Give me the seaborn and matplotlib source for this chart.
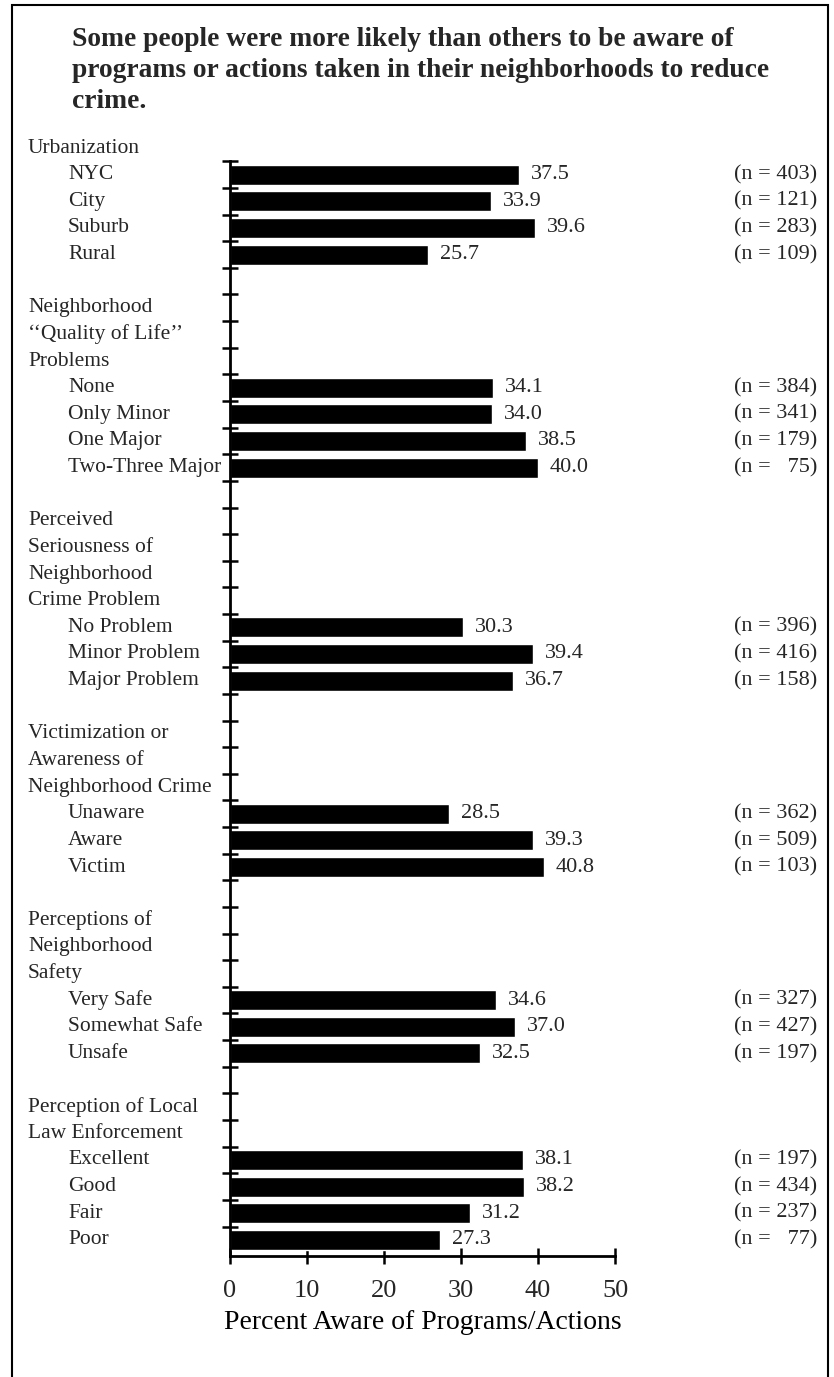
import seaborn as sns
import matplotlib.pyplot as plt
import matplotlib.transforms as mtransforms
from matplotlib.patches import Rectangle
import numpy as np
import pandas as pd

# title text
title_lines = [
    "Some people were more likely than others to be aware of",
    "programs or actions taken in their neighborhoods to reduce",
    "crime.",
]

# groups: header lines, item labels, percent aware, sample size
urban_head = ["Urbanization"]
urban_labels = ["NYC", "City", "Suburb", "Rural"]
urban_pct = [37.5, 33.9, 39.6, 25.7]
urban_n = [403, 121, 283, 109]

qol_head = ["Neighborhood", "\u2018\u2018Quality of Life\u2019\u2019", "Problems"]
qol_labels = ["None", "Only Minor", "One Major", "Two-Three Major"]
qol_pct = [34.1, 34.0, 38.5, 40.0]
qol_n = [384, 341, 179, 75]

crime_head = ["Perceived", "Seriousness of", "Neighborhood", "Crime Problem"]
crime_labels = ["No Problem", "Minor Problem", "Major Problem"]
crime_pct = [30.3, 39.4, 36.7]
crime_n = [396, 416, 158]

victim_head = ["Victimization or", "Awareness of", "Neighborhood Crime"]
victim_labels = ["Unaware", "Aware", "Victim"]
victim_pct = [28.5, 39.3, 40.8]
victim_n = [362, 509, 103]

safety_head = ["Perceptions of", "Neighborhood", "Safety"]
safety_labels = ["Very Safe", "Somewhat Safe", "Unsafe"]
safety_pct = [34.6, 37.0, 32.5]
safety_n = [327, 427, 197]

law_head = ["Perception of Local", "Law Enforcement"]
law_labels = ["Excellent", "Good", "Fair", "Poor"]
law_pct = [38.1, 38.2, 31.2, 27.3]
law_n = [197, 434, 237, 77]

groups = [
    (urban_head, urban_labels, urban_pct, urban_n),
    (qol_head, qol_labels, qol_pct, qol_n),
    (crime_head, crime_labels, crime_pct, crime_n),
    (victim_head, victim_labels, victim_pct, victim_n),
    (safety_head, safety_labels, safety_pct, safety_n),
    (law_head, law_labels, law_pct, law_n),
]

# one row per text line, header lines and blank spacer rows have no bar
rows = []
for gi, (head, labels, pct, ns) in enumerate(groups):
    for h in head:
        rows.append(("head", h, np.nan, None))
    for lab, p, k in zip(labels, pct, ns):
        rows.append(("item", lab, p, k))
    if gi < len(groups) - 1:
        rows.append(("blank", "", np.nan, None))
df = pd.DataFrame(rows, columns=["kind", "label", "pct", "n"])
df["row"] = [f"r{i}" for i in range(len(df))]
nrows = len(df)

sns.set_theme(style="white")
plt.rcParams["font.family"] = ["Liberation Serif", "DejaVu Serif"]

W, H = 834, 1377
fig = plt.figure(figsize=(W / 100, H / 100), dpi=100)

row_px = 26.63
y_top = 0.5
y_bot = nrows - 0.4
top_px = 148 + y_top * row_px
bot_px = 148 + y_bot * row_px
ax = fig.add_axes([230 / W, 1 - bot_px / H, (615 - 230) / W, (bot_px - top_px) / H])

sns.barplot(data=df, x="pct", y="row", order=list(df["row"]), color="black",
            width=0.75, orient="h", errorbar=None, ax=ax, saturation=1)

ax.set_ylim(y_bot, y_top)
ax.set_xlim(0, 50)
ax.set_xticks(range(0, 51, 10))
ax.set_yticks(np.arange(0.5, nrows - 0.5, 1))
ax.set_yticklabels([])
ax.tick_params(axis="y", direction="inout", length=11, width=1.8, color="black", left=True)
ax.tick_params(axis="x", direction="inout", length=11, width=1.8, color="black",
               bottom=True, labelsize=19, pad=12)
for s in ["top", "right"]:
    ax.spines[s].set_visible(False)
for s in ["left", "bottom"]:
    ax.spines[s].set_linewidth(2)
    ax.spines[s].set_color("black")
ax.set_ylabel("")
ax.set_xlabel("Percent Aware of Programs/Actions", fontsize=20, labelpad=6, color="black")
ax.patch.set_alpha(0)

# row labels, value labels, sample sizes
tr = mtransforms.blended_transform_factory(fig.transFigure, ax.transData)
for i, r in df.iterrows():
    if r["kind"] == "head":
        ax.text(28 / W, i, r["label"], transform=tr, va="center", ha="left",
                fontsize=15.5, clip_on=False)
    elif r["kind"] == "item":
        ax.text(68 / W, i, r["label"], transform=tr, va="center", ha="left",
                fontsize=15.5, clip_on=False)
        ax.text(r["pct"] + 1.55, i, f"{r['pct']:.1f}", va="center", ha="left",
                fontsize=16, clip_on=False)
        nstr = f"(n = {int(r['n'])})" if r["n"] >= 100 else f"(n =   {int(r['n'])})"
        ax.text(817 / W, i, nstr, transform=tr, va="center", ha="right",
                fontsize=16, clip_on=False)

# title
for k, line in enumerate(title_lines):
    fig.text(72 / W, 1 - (40 + 30.5 * k) / H, line, fontsize=19.8, fontweight="bold",
             va="center", ha="left")

# frame around the whole figure
fig.patches.append(Rectangle((12 / W, -0.01), (828 - 12) / W, 1.01 - 5 / H,
                             transform=fig.transFigure, fill=False,
                             edgecolor="black", linewidth=1.5))

fig.savefig("out.png", dpi=100)
